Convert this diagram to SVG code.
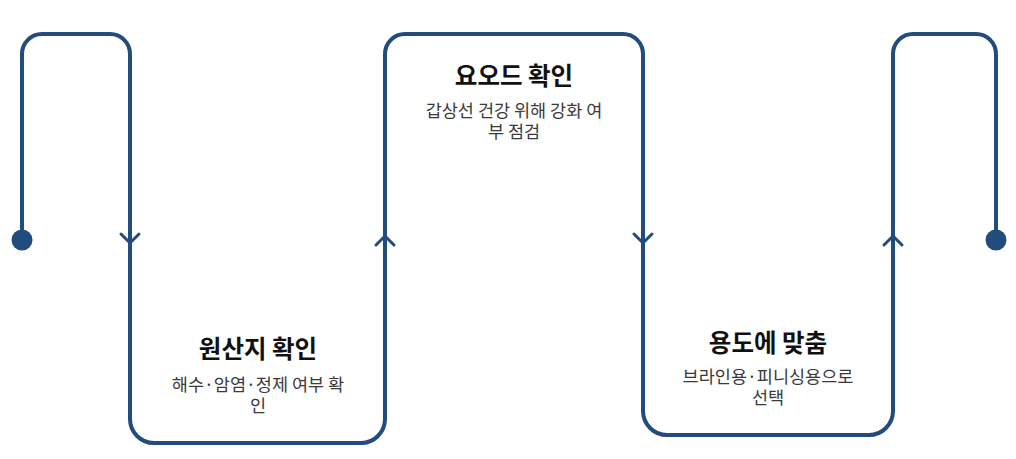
<svg xmlns="http://www.w3.org/2000/svg" width="1016" height="459" viewBox="0 0 1016 459">
<style>
.line{fill:none;stroke:#224b7e;stroke-width:4;stroke-linecap:round;stroke-linejoin:round}
.chev{fill:none;stroke:#224b7e;stroke-width:3;stroke-linecap:round;stroke-linejoin:miter}
.dot{fill:#224b7e}
.title{font-family:"Noto Sans CJK KR","Noto Sans",sans-serif;font-size:24.5px;font-weight:700;fill:#111;text-anchor:middle}
.desc{font-family:"Noto Sans CJK KR","Noto Sans",sans-serif;font-size:17.5px;fill:#3a3a3a;text-anchor:middle}
</style>
<rect width="1016" height="459" fill="#ffffff"/>
<g id="connectors">
<path class="line" d="M22,240 V54 A20,20 0 0 1 42,34 H110 A20,20 0 0 1 130,54 V419 A24,24 0 0 0 154,443 H361 A24,24 0 0 0 385,419 V54 A20,20 0 0 1 405,34 H623 A20,20 0 0 1 643,54 V411 A24,24 0 0 0 667,435 H869 A24,24 0 0 0 893,411 V54 A20,20 0 0 1 913,34 H976 A20,20 0 0 1 996,54 V240"/>
<polyline class="chev" points="121,234 130,243 139,234"/>
<polyline class="chev" points="376,245 385,236 394,245"/>
<polyline class="chev" points="634,234 643,243 652,234"/>
<polyline class="chev" points="884,245 893,236 902,245"/>
</g>
<g id="start"><circle class="dot" cx="22" cy="240" r="10.5"/></g>
<g id="end"><circle class="dot" cx="996" cy="240" r="10.5"/></g>
<g id="step1">
<text class="title" x="258" y="358">원산지 확인</text>
<text class="desc" x="258" y="391">해수·암염·정제 여부 확<tspan x="258" dy="21">인</tspan></text>
</g>
<g id="step2">
<text class="title" x="514" y="85">요오드 확인</text>
<text class="desc" x="514" y="117">갑상선 건강 위해 강화 여<tspan x="514" dy="21">부 점검</tspan></text>
</g>
<g id="step3">
<text class="title" x="768" y="352">용도에 맞춤</text>
<text class="desc" x="768" y="383">브라인용·피니싱용으로<tspan x="768" dy="21">선택</tspan></text>
</g>
</svg>
